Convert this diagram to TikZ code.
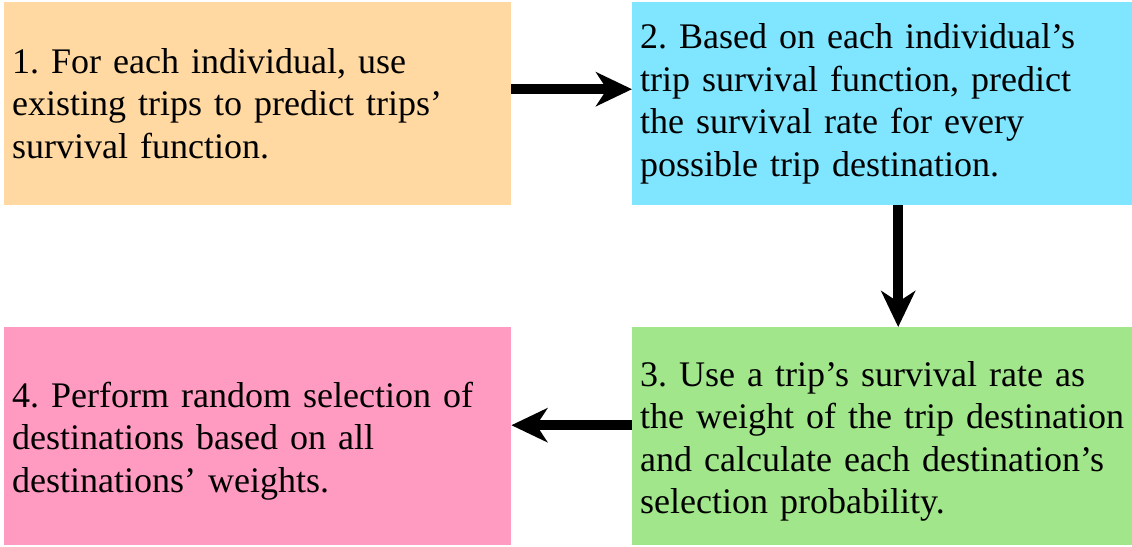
\documentclass[tikz,border=0pt]{standalone}
\usepackage{fontspec}
\setmainfont{Liberation Serif}
\usetikzlibrary{arrows.meta}

\definecolor{stepOrange}{RGB}{255,217,161}
\definecolor{stepCyan}{RGB}{128,229,255}
\definecolor{stepGreen}{RGB}{161,230,138}
\definecolor{stepPink}{RGB}{255,155,192}

\tikzset{
  stepbox/.style={rectangle,anchor=north west,inner xsep=8pt,inner ysep=0pt,
    align=left,font=\fontsize{36}{42.5}\selectfont\frenchspacing},
  flow/.style={draw=black,line width=10pt,-{Stealth[length=36pt,width=34pt,inset=11pt]}}
}

\begin{document}
\begin{tikzpicture}[x=1pt,y=-1pt]
    \useasboundingbox (0,0) rectangle (1132,546);
    \node[stepbox,fill=stepOrange,minimum width=507pt,minimum height=203pt,text width=491pt] (S1) at (4,2)
      {1. For each individual, use\\existing trips to predict trips’\\survival function.};
    \node[stepbox,fill=stepCyan,minimum width=500pt,minimum height=203pt,text width=484pt] (S2) at (632,2)
      {2. Based on each individual’s\\trip survival function, predict\\the survival rate for every\\possible trip destination.};
    \node[stepbox,fill=stepGreen,minimum width=500pt,minimum height=218pt,text width=484pt,text height=35pt] (S3) at (632,327)
      {3. Use a trip’s survival rate as\\the weight of the trip destination\\and calculate each destination’s\\selection probability.};
    \node[stepbox,fill=stepPink,minimum width=507pt,minimum height=218pt,text width=491pt,text height=35pt] (S4) at (4,327)
      {4. Perform random selection of\\destinations based on all\\destinations’ weights.};
    \draw [flow] ([yshift=14.5pt]S1.east) -- ([yshift=14.5pt]S2.west);
    \draw [flow] ([xshift=16pt]S2.south) -- ([xshift=16pt]S3.north);
    \draw [flow] ([yshift=11pt]S3.west) -- ([yshift=11pt]S4.east);
\end{tikzpicture}
\end{document}
